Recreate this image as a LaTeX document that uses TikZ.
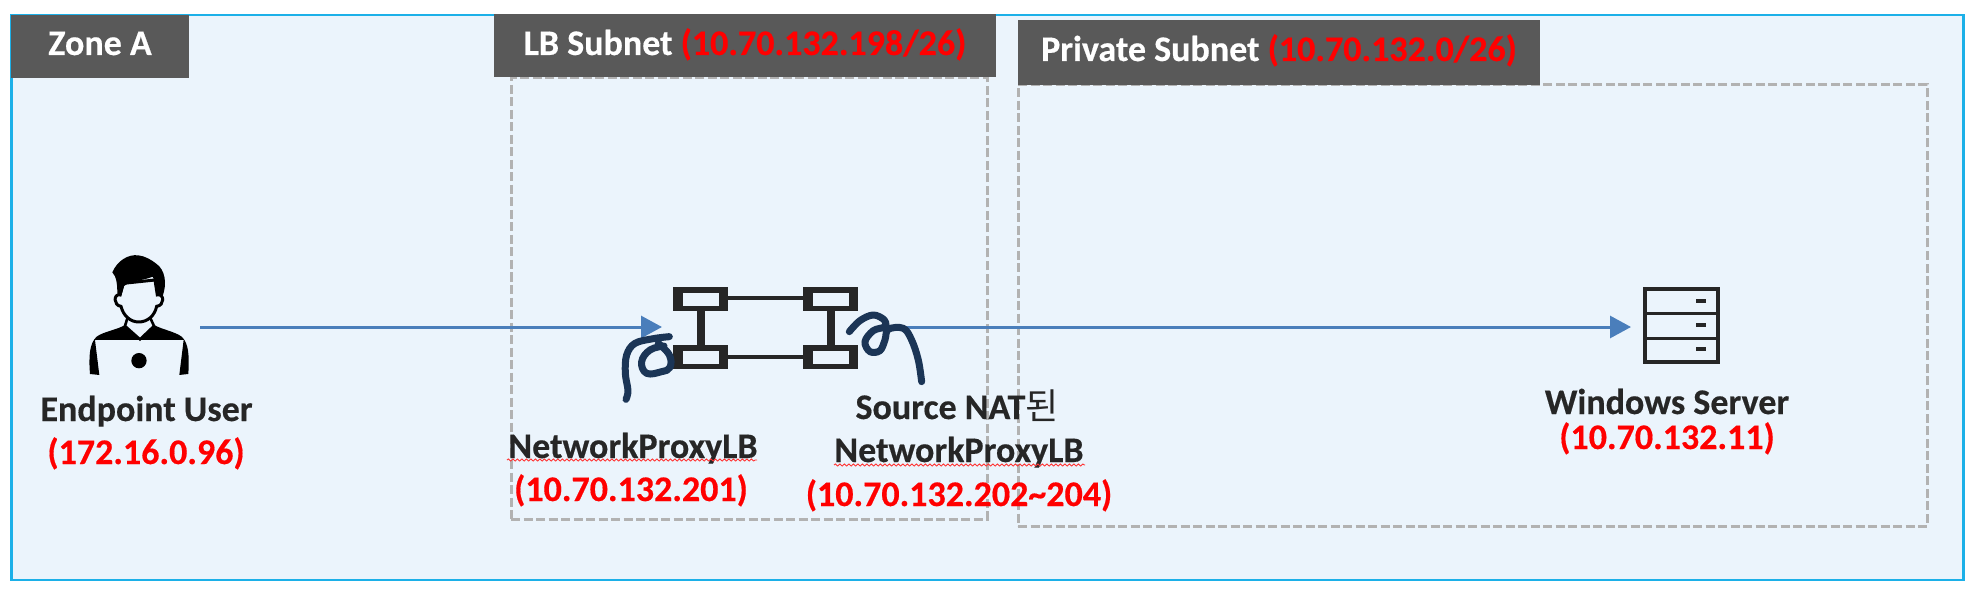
\documentclass[tikz,border=0pt]{standalone}
\usepackage{fontspec}
\setmainfont{Carlito}[BoldFont={Carlito Bold},BoldFeatures={FakeBold=0.4}]
\newfontfamily\krfont{Noto Sans CJK KR}
\usetikzlibrary{arrows.meta,decorations.pathmorphing}
\definecolor{zonefill}{HTML}{EBF4FC}
\definecolor{zoneline}{HTML}{1CB0E8}
\definecolor{hdr}{HTML}{595959}
\definecolor{dashc}{HTML}{B2B2B2}
\definecolor{flow}{HTML}{4A7EBB}
\definecolor{ink}{HTML}{262626}
\definecolor{pen}{HTML}{1B3556}
\definecolor{ipred}{HTML}{FF0000}
\tikzset{
  header/.style={fill=hdr,inner sep=0pt},
  hdrtext/.style={anchor=base,text=white,font=\bfseries\fontsize{36}{42}\selectfont,inner sep=0pt},
  subnet/.style={draw=dashc,line width=3pt,dash pattern=on 9pt off 3.5pt},
  label/.style={anchor=base,text=ink,font=\bfseries\fontsize{36}{42}\selectfont,inner sep=0pt},
  iplabel/.style={anchor=base,text=ipred,font=\bfseries\fontsize{36}{42}\selectfont,inner sep=0pt},
  flowline/.style={draw=flow,line width=3pt,-{Triangle[length=21pt,width=22pt]}},
  lbouter/.style={fill=ink,minimum width=55pt,minimum height=24pt,inner sep=0pt},
  lbinner/.style={fill=zonefill,minimum width=36pt,minimum height=13pt,inner sep=0pt},
  scribble/.style={draw=pen,line width=7pt,line cap=round,line join=round},
  squiggle/.style={draw=red!80!white,line width=0.9pt,decorate,decoration={snake,amplitude=1pt,segment length=4.5pt}},
}
\begin{document}
\begin{tikzpicture}[x=1pt,y=-1pt]
\useasboundingbox (0,0) rectangle (1987,604);
\fill[white] (0,0) rectangle (1987,604);
% zone
\node[name=zone,draw=zoneline,fill=zonefill,line width=2.6pt,minimum width=1952pt,minimum height=565pt,inner sep=0pt] at (987.5,297.5) {};
% subnets
\node[name=lbnet,subnet,minimum width=476pt,minimum height=441pt,inner sep=0pt] at (749,298.5) {};
\node[name=privnet,subnet,minimum width=909pt,minimum height=441pt,inner sep=0pt] at (1472.5,305.5) {};
% headers
\node[name=hzone,header,minimum width=178pt,minimum height=63pt] at (100,46.5) {};
\node[name=hlb,header,minimum width=502pt,minimum height=63pt] at (745,45.5) {};
\node[name=hpriv,header,minimum width=522pt,minimum height=65pt] at (1279,52.5) {};
\node[name=tzone,hdrtext] at (100,55) {Zone A};
\node[name=tlb,hdrtext] at (745,55) {LB Subnet {\color{ipred}(10.70.132.198/26)}};
\node[name=tpriv,hdrtext] at (1279,61) {Private Subnet {\color{ipred}(10.70.132.0/26)}};
% connector ends
\coordinate (userR) at (200,327);
\coordinate (lbL) at (662,327);
\coordinate (lbR) at (903,327);
\coordinate (srvL) at (1631,327);
% load balancer icon
\draw[draw=ink,line width=3.4pt] (728,298) -- (803,298) (728,357) -- (803,357);
\draw[draw=ink,line width=8.5pt] (701,311) -- (701,345) (831,311) -- (831,345);
\foreach \n/\px/\py in {lb1/700.5/299, lb2/830.5/299, lb3/700.5/357, lb4/830.5/357}{
  \node[name=\n,lbouter] at (\px,\py) {};
  \node[name=\n i,lbinner] at (\px,\py) {};
}
% flows
\draw[flowline] (userR) -- (lbL);
\draw[flowline] (lbR) -- (srvL);
% scribbles
\begin{scope}[shift={(590,260)},x=0.3333pt,y=-0.3333pt]
\draw[scribble] plot[smooth,tension=0.6] coordinates {(238,230) (190,236) (135,250) (110,285) (106,340) (114,392) (108,418)};
\draw[scribble] plot[smooth,tension=0.7] coordinates {(222,258) (180,270) (155,305) (170,340) (215,335) (240,322) (238,285) (205,250)};
\draw[scribble] plot[smooth,tension=0.6] coordinates {(778,215) (810,182) (850,165) (883,180) (885,200) (850,212) (825,245) (840,275) (870,272) (885,240) (895,208) (940,205) (965,240) (985,300) (995,365)};
\end{scope}
% user icon
\begin{scope}[shift={(40,240)},x=0.3333pt,y=-0.3333pt]
\node[name=usericon,inner sep=0pt,minimum size=0pt] at (297,225) {};
\fill[black] (150,402) .. controls (146,350) and (148,310) .. (170,290) .. controls (190,275) and (235,268) .. (255,255) -- (300,298) -- (342,255) .. controls (365,268) and (405,275) .. (425,290) .. controls (447,310) and (448,350) .. (445,402) -- (418,405) -- (431,300) -- (165,300) -- (178,405) -- cycle;
\draw[black,line width=2.6pt,fill=zonefill] (263,232) -- (255,258) -- (300,298) -- (342,258) -- (330,232);
\draw[black,line width=3pt,fill=zonefill] (240,165) .. controls (220,160) and (220,197) .. (243,199) .. controls (250,228) and (272,246) .. (296,246) .. controls (322,246) and (344,228) .. (350,199) .. controls (374,197) and (374,160) .. (352,165) -- (345,120) -- (250,130) -- cycle;
\fill[black] (217,97) .. controls (232,62) and (265,42) .. (295,46) .. controls (315,48) and (335,60) .. (350,72) .. controls (375,90) and (382,130) .. (368,168) -- (352,165) .. controls (352,145) and (347,125) .. (338,110) .. controls (310,122) and (272,122) .. (252,138) .. controls (248,150) and (247,160) .. (243,170) -- (232,160) .. controls (232,135) and (230,110) .. (217,97) -- cycle;
\fill[black] (297,362) circle[radius=23];
\end{scope}
% server icon
\node[name=srvicon,draw=ink,line width=3.4pt,minimum width=73pt,minimum height=73pt,inner sep=0pt] at (1681.5,325.5) {};
\draw[ink,line width=3pt] (srvicon.west |- 0,313) -- (srvicon.east |- 0,313) (srvicon.west |- 0,338) -- (srvicon.east |- 0,338);
\draw[ink,line width=3.4pt] (1696,301) -- (1706,301) (1696,325) -- (1706,325) (1696,349) -- (1706,349);
% labels
\node[name=luser,label] at (146.5,421) {Endpoint User};
\node[name=iuser,iplabel] at (146,464) {(172.16.0.96)};
\node[name=lnet,label] at (633,458) {NetworkProxyLB};
\node[name=inet,iplabel] at (631,501) {(10.70.132.201)};
\draw[squiggle] (507,460) -- (757,460);
\node[name=lnat,label] at (957,419) {Source NAT{\mdseries\krfont 된}};
\node[name=lnet2,label] at (959,462) {NetworkProxyLB};
\node[name=inat,iplabel] at (959,506) {(10.70.132.202\textasciitilde 204)};
\draw[squiggle] (834,465) -- (1085,465);
\node[name=lsrv,label] at (1667,414) {Windows Server};
\node[name=isrv,iplabel] at (1667,449) {(10.70.132.11)};
\end{tikzpicture}
\end{document}
